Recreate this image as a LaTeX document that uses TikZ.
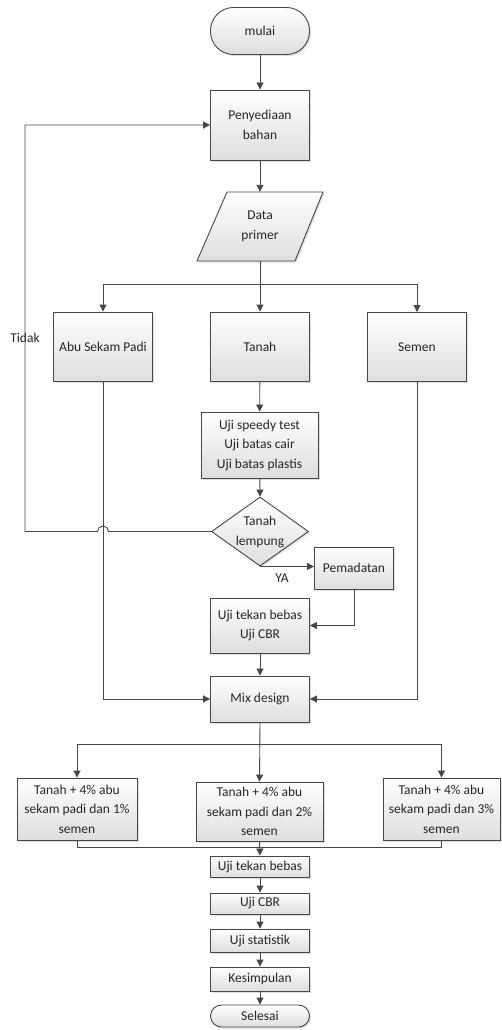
\documentclass[tikz,border=0pt]{standalone}
\usepackage{fontspec}
\setmainfont{Carlito}
\usetikzlibrary{arrows.meta,shapes.geometric,shadows}
\begin{document}
\begin{tikzpicture}[x=1pt,y=-1pt,
  line col/.style={draw=black!72},
  base/.style={line col, line width=0.9pt, top color=white, bottom color=black!13,
    drop shadow={opacity=0.25, shadow xshift=1.5pt, shadow yshift=-1.5pt},
    inner sep=0pt, align=center, font=\fontsize{13.5}{19.5}\selectfont, text=black!85},
  box/.style={base, rectangle, minimum width=#1},
  box/.default=99pt,
  term/.style={base, rectangle, rounded corners=#1, minimum width=99pt},
  dec/.style={base, diamond, minimum width=97pt, minimum height=69pt},
  lbl/.style={inner sep=0pt, align=center, font=\fontsize{13.5}{19.5}\selectfont, text=black!85},
  conn/.style={line col, line width=0.9pt},
  arr/.style={conn, -{Triangle[length=7pt,width=7pt]}}
]
\useasboundingbox (0,0) rectangle (501,1030);

% nodes
\node[term=23pt, minimum height=47pt] (start) at (260,31) {mulai};
\node[box, minimum height=70pt] (pb) at (260,125) {Penyediaan\\bahan};
\path[base] (227,192) -- (323,192) -- (295,261) -- (197,261) -- cycle;
\node[lbl, minimum width=99pt, minimum height=69pt] (data) at (260,226.5) {Data\\primer};
\node[box, minimum height=69pt] (abu) at (103,346.5) {Abu Sekam Padi};
\node[box, minimum height=69pt] (tanah) at (260,346.5) {Tanah};
\node[box, minimum height=69pt] (semen) at (417,347) {Semen};
\node[box=117pt, minimum height=66pt] (uji) at (259.5,445) {Uji speedy test\\Uji batas cair\\Uji batas plastis};
\node[dec] (d) at (260,531.5) {};
\node[lbl] (dtext) at (260,532) {Tanah\\lempung};
\node[box=79pt, minimum height=42pt] (pem) at (354,568) {Pemadatan};
\node[box, minimum height=55pt] (ujt) at (260,625.5) {Uji tekan bebas\\Uji CBR};
\node[box, minimum height=46pt] (mix) at (260,699) {Mix design};
\node[box=120pt, minimum height=62pt] (b1) at (77,809) {Tanah + 4\% abu\\sekam padi dan 1\%\\semen};
\node[box=127pt, minimum height=59pt] (b2) at (259.5,811.5) {Tanah + 4\% abu\\sekam padi dan 2\%\\semen};
\node[box=117pt, minimum height=62pt] (b3) at (441.5,809) {Tanah + 4\% abu\\sekam padi dan 3\%\\semen};
\node[box, minimum height=21pt] (u1) at (260,866.5) {Uji tekan bebas};
\node[box, minimum height=21pt] (u2) at (260,903.5) {Uji CBR};
\node[box, minimum height=23pt] (u3) at (260,940.5) {Uji statistik};
\node[box, minimum height=24pt] (u4) at (260,979) {Kesimpulan};
\node[term=11pt, minimum height=22pt] (end) at (260,1016) {Selesai};

\node[lbl] (tidak) at (25,338) {Tidak};
\node[lbl] (ya) at (282,578) {YA};

% coordinates
\coordinate (br1) at (260,284);
\coordinate (br2) at (260,744);
\coordinate (mg) at (260,847);
\coordinate (tl) at (25,531.5);

% connectors
\draw[arr] (start) -- (pb);
\draw[arr] (pb) -- (data.north);
\draw[arr] (data.south) -- (tanah.north);
\draw[arr] (br1) -| (abu.north);
\draw[arr] (br1) -| (semen.north);
\draw[arr] (tanah) -- (uji);
\draw[arr] (uji) -- (d.north);
\draw[arr] (d.south) -- (d.south -| pem.west);
\draw[arr] (pem.south) |- (ujt.east);
\draw[arr] (ujt) -- (mix);
\draw[arr] (abu.south) |- (mix.west);
\draw[arr] (semen.south) |- (mix.east);
\draw[arr] (mix.south) -- (b2.north);
\draw[arr] (br2) -| (b1.north);
\draw[arr] (br2) -| (b3.north);
\draw[conn] (b1.south) |- (mg) -| (b3.south);
\draw[arr] (b2.south) -- (u1.north);
\draw[arr] (u1) -- (u2);
\draw[arr] (u2) -- (u3);
\draw[arr] (u3) -- (u4);
\draw[arr] (u4) -- (end);
\draw[arr] (d.west) -- (108.5,531.5) arc[start angle=0, end angle=-180, radius=5.5] -- (tl) |- (pb.west);
\end{tikzpicture}
\end{document}
